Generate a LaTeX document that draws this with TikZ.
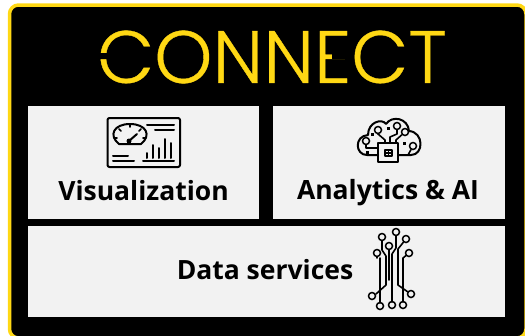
\documentclass[tikz,border=0pt]{standalone}
\usepackage{fontspec}
\setmainfont{Open Sans}
\newfontfamily\logofont[FakeBold=0.5]{Poppins Light}
\definecolor{logoyellow}{HTML}{FFD814}
\definecolor{panelgrey}{HTML}{F2F2F2}
\tikzset{
  panel/.style={fill=panelgrey, anchor=north west},
  title/.style={font=\fontsize{26.5}{30}\selectfont\bfseries, text=black},
  icon/.style={line width=2pt, black, line cap=round, line join=round},
  thin icon/.style={line width=1.6pt, black, line cap=round, line join=round},
  pad/.style={circle, draw=black, line width=1.5pt, inner sep=0pt, minimum size=7pt}
}
\begin{document}
\begin{tikzpicture}[x=1pt, y=-1pt]
  \useasboundingbox (0,0) rectangle (525,335);
  \clip (0,0) rectangle (525,335);
  \draw[logoyellow, fill=black, line width=3.5pt, rounded corners=9pt] (9.5,5) rectangle (526,338);
  \node[text=logoyellow, font=\logofont\fontsize{74}{74}\selectfont] (logo) at (272,57) {CONNECT};
  % gaps in the two C
  \fill[black] (97,53) rectangle (110,59) (332,53) rectangle (345,59);
  % the three panels
  \node[panel, minimum width=231pt, minimum height=113pt] (visual) at (28,106) {};
  \node[panel, minimum width=232pt, minimum height=113pt] (analytics) at (273,106) {};
  \node[panel, minimum width=477pt, minimum height=91pt] (services) at (28,226) {};
  \node[title] (visualtext) at (143.5,191) {Visualization};
  \node[title] (analyticstext) at (388,193) {Analytics \& AI};
  \node[title] (servicestext) at (265,270) {Data services};
  % dashboard
  \draw[icon, rounded corners=2pt] (107.5,118) rectangle (180,167);
  \draw[icon] (119,144) .. controls (108,135) and (114,124) .. (130,124) .. controls (146,124) and (152,135) .. (141,144) -- cycle;
  \draw[thin icon] (130,124) -- (130,127) (119,129) -- (121,131) (141,129) -- (139,131) (114,138) -- (117,138) (146,138) -- (143,138);
  \draw[icon] (129,141) -- (137,134);
  \fill[black] (129,141) circle (2.5pt);
  \foreach \bx/\by in {147/153, 153/145, 159/148, 165/139, 171/143} {
    \draw[icon] (\bx,158) -- (\bx,\by);
  }
  \foreach \xa/\xb/\ly in {147/174/125, 155/174/130, 143/174/161, 113/128/156, 113/134/161} {
    \draw[icon] (\xa,\ly) -- (\xb,\ly);
  }
  % cloud with chip
  \draw[icon] (378,155) -- (367,155) .. controls (355,155) and (354,136) .. (368,135)
    .. controls (368,122) and (382,118) .. (386,124) .. controls (392,115) and (408,118) .. (409,131)
    .. controls (424,132) and (424,155) .. (411,155) -- (398,155);
  \draw[icon] (378,143) rectangle (398,162);
  \draw[thin icon] (385,150) rectangle (392,156) (388.5,150) -- (388.5,156) (385,153) -- (392,153);
  \foreach \pa/\pb in {366/141, 378/130, 397/126, 405/132, 413/146} {
    \node[pad] (chip\pa) at (\pa,\pb) {};
  }
  \foreach \dx/\dy in {388/128, 367/152, 372/134, 404/143} {
    \fill[black] (\dx-1.5,\dy-1.5) rectangle (\dx+1.5,\dy+1.5);
  }
  \draw[thin icon] (chip366) -- (366,148) -- (378,148);
  \draw[thin icon] (chip378) -- (378,134) -- (385,140) -- (385,143);
  \draw[thin icon] (chip397) -- (397,134) -- (390,137) -- (390,143);
  \draw[thin icon] (chip405) -- (396,140) -- (396,143);
  \draw[thin icon] (chip413) -- (408,155) -- (398,155);
  % circuit
  \foreach \pa/\pb in {382/237, 396/232, 406/239, 389/246, 377/253, 409/253, 372/296, 411/294, 380/306, 392/305, 403/305} {
    \node[pad] (trace\pa) at (\pa,\pb) {};
  }
  \draw[thin icon] (trace382) -- (382,250) -- (386,256) -- (386,285) -- (376,294);
  \draw[thin icon] (trace396) -- (396,248) -- (392,254) -- (392,288) -- (392,302);
  \draw[thin icon] (trace406) -- (398,249) -- (398,285) -- (408,292);
  \draw[thin icon] (trace389) -- (389,280);
  \draw[thin icon] (trace377) -- (377,258) (380,258) -- (380,288) -- (380,303);
  \draw[thin icon] (trace409) -- (403,258) -- (403,302);
\end{tikzpicture}
\end{document}
